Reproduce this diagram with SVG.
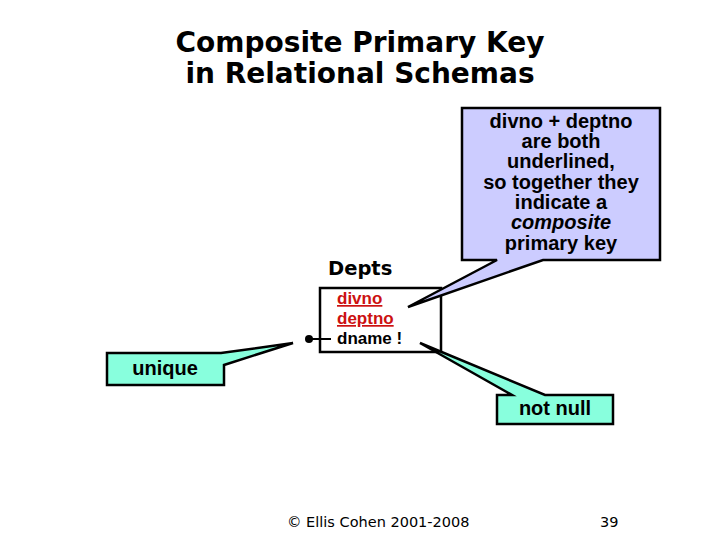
<svg xmlns="http://www.w3.org/2000/svg" width="720" height="540" viewBox="0 0 720 540">
<style>
.title{font-family:"DejaVu Sans",Verdana,sans-serif;font-weight:bold;font-size:28px;fill:#000;text-anchor:middle}
.lbl{font-family:"DejaVu Sans",Verdana,sans-serif;font-weight:bold;font-size:19.5px;fill:#000}
.attr{font-family:"Liberation Sans",Arial,sans-serif;font-weight:bold;font-size:17px;fill:#000}
.key{fill:#cc1111;text-decoration:underline}
.call{font-family:"Liberation Sans",Arial,sans-serif;font-weight:bold;font-size:20px;fill:#000;text-anchor:middle}
.foot{font-family:"DejaVu Sans",Verdana,sans-serif;font-size:14.5px;fill:#000}
.box{fill:#fff;stroke:#000;stroke-width:2.5}
.aqua{fill:#88ffdd;stroke:#000;stroke-width:2.5;stroke-linejoin:miter}
.lav{fill:#ccccff;stroke:#000;stroke-width:2.5;stroke-linejoin:miter}
</style>
<rect width="720" height="540" fill="#fff"/>
<g id="title">
<text class="title" x="360" y="52">Composite Primary Key</text>
<text class="title" x="360" y="83">in Relational Schemas</text>
</g>
<g id="depts">
<text class="lbl" x="328" y="275">Depts</text>
<rect class="box" x="320" y="288" width="121" height="64"/>
<text class="attr key" x="337" y="304">divno</text>
<text class="attr key" x="337" y="324">deptno</text>
<text class="attr" x="337" y="344">dname !</text>
</g>
<g id="connectors">
<circle cx="309" cy="339" r="4" fill="#000"/>
<line x1="309" y1="339" x2="331" y2="339" stroke="#000" stroke-width="2"/>
</g>
<g id="callout-pk">
<path class="lav" d="M462,108 H660 V260 H543 L408,307 L497,260 H462 Z"/>
<text class="call" x="561" y="128">divno + deptno</text>
<text class="call" x="561" y="148">are both</text>
<text class="call" x="561" y="168">underlined,</text>
<text class="call" x="561" y="189">so together they</text>
<text class="call" x="561" y="209">indicate a</text>
<text class="call" x="561" y="229" font-style="italic">composite</text>
<text class="call" x="561" y="250">primary key</text>
</g>
<g id="callout-unique">
<path class="aqua" d="M107,353 H221 L293,343 L224,365 V385 H107 Z"/>
<text class="call" x="165" y="375">unique</text>
</g>
<g id="callout-notnull">
<path class="aqua" d="M497,395 H512 L420,343 L545,395 H613 V424 H497 Z"/>
<text class="call" x="555" y="415">not null</text>
</g>
<g id="footer">
<text class="foot" x="287" y="527">© Ellis Cohen 2001-2008</text>
<text class="foot" x="600" y="527">39</text>
</g>
</svg>
